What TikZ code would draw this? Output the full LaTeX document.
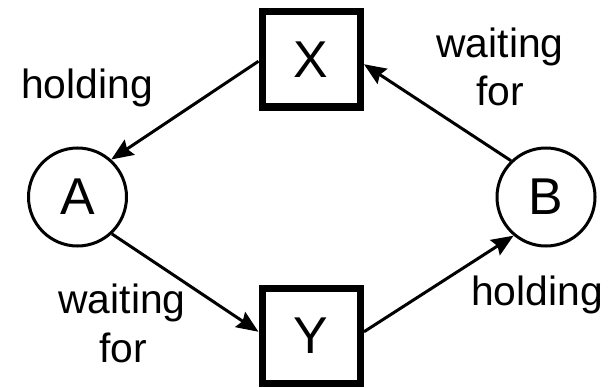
\documentclass[tikz,border=0pt]{standalone}
\usepackage{fontspec}
\setmainfont{Liberation Sans}
\usetikzlibrary{arrows.meta}
\begin{document}
\begin{tikzpicture}[x=1bp,y=1bp,
  res/.style={draw, line width=7.5bp, minimum width=98bp, minimum height=95bp, inner sep=0pt, font=\fontsize{52}{52}\selectfont},
  proc/.style={draw, circle, line width=3bp, minimum size=98bp, inner sep=0pt, font=\fontsize{52}{52}\selectfont},
  lbl/.style={anchor=base, inner sep=0pt, font=\fontsize{41}{41}\selectfont},
  conn/.style={line width=3bp, -{Stealth[length=22bp,width=18bp,inset=3bp]}}]
\useasboundingbox (0,0) rectangle (614,387);
\node[res] (X) at (311.25,327.75) {X};
\node[res] (Y) at (311.25,51.25) {Y};
\node[proc] (A) at (77.5,190) {A};
\node[proc] (B) at (546,190) {B};
\node[lbl] (l1) at (87,289) {holding};
\node[lbl] (l2a) at (500,330) {waiting};
\node[lbl] (l2b) at (500,282) {for};
\node[lbl] (l3a) at (122,74) {waiting};
\node[lbl] (l3b) at (123,25) {for};
\node[lbl] (l4) at (537,82) {holding};
\coordinate (Xw) at ([yshift=-2bp]X.west);
\coordinate (Xe) at ([yshift=-5bp]X.east);
\coordinate (Yw) at ([yshift=4bp]Y.west);
\coordinate (Ye) at ([yshift=4bp]Y.east);
\draw[conn] (Xw) -- (A.48);
\draw[conn] (B.134) -- (Xe);
\draw[conn] (A.-47) -- (Yw);
\draw[conn] (Ye) -- (B.230);
\end{tikzpicture}
\end{document}
